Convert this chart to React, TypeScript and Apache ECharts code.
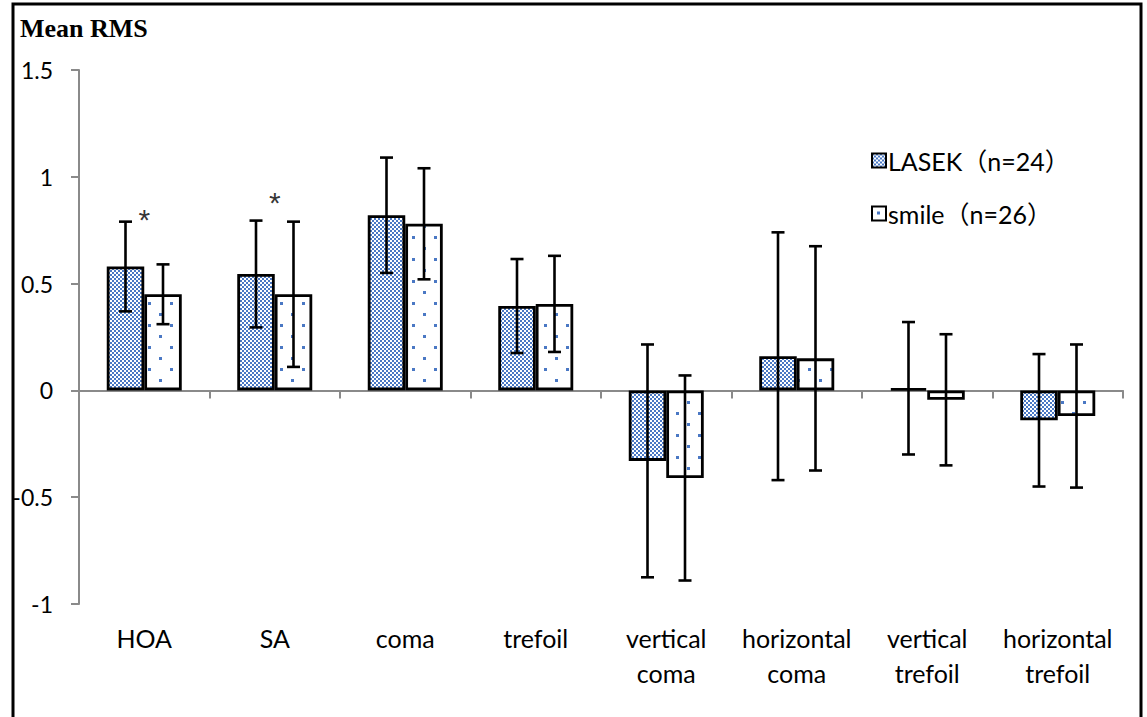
import React, { useEffect, useRef } from "react";
import * as echarts from "echarts";

const categories = [
  "HOA",
  "SA",
  "coma",
  "trefoil",
  "vertical\ncoma",
  "horizontal\ncoma",
  "vertical\ntrefoil",
  "horizontal\ntrefoil",
];
const lasekMean = [0.58, 0.545, 0.82, 0.395, -0.33, 0.16, 0.01, -0.14];
const lasekSD = [0.21, 0.25, 0.27, 0.22, 0.545, 0.58, 0.31, 0.31];
const smileMean = [0.45, 0.45, 0.78, 0.405, -0.41, 0.15, -0.044, -0.12];
const smileSD = [0.14, 0.34, 0.26, 0.225, 0.48, 0.525, 0.307, 0.335];
const asterisks: [number, number][] = [
  [0, 0.8],
  [1, 0.88],
];
const seriesNames = ["LASEK（n=24）", "smile（n=26）"];
const yTicks = [-1, -0.5, 0, 0.5, 1, 1.5];

const BLUE = "#4a78c4";
const BAR_W = 37.5;
const FONT = "Lato, 'Noto Sans CJK SC', sans-serif";

function makeChecker(): HTMLCanvasElement {
  const c = document.createElement("canvas");
  c.width = 4;
  c.height = 4;
  const g = c.getContext("2d")!;
  g.fillStyle = "#ffffff";
  g.fillRect(0, 0, 4, 4);
  g.fillStyle = BLUE;
  g.fillRect(0, 0, 2, 2);
  g.fillRect(2, 2, 2, 2);
  return c;
}
function makeDots(): HTMLCanvasElement {
  const c = document.createElement("canvas");
  c.width = 22;
  c.height = 22;
  const g = c.getContext("2d")!;
  g.fillStyle = "#ffffff";
  g.fillRect(0, 0, 22, 22);
  g.fillStyle = BLUE;
  g.fillRect(5, 5, 3, 3);
  g.fillRect(16, 16, 3, 3);
  return c;
}

function errorSeries(mean: number[], sd: number[], side: number) {
  return {
    type: "custom",
    xAxisIndex: 0,
    z: 10,
    silent: true,
    data: mean.map((m, i) => [i, m - sd[i], m + sd[i]]),
    renderItem: (_p: any, api: any) => {
      const i = api.value(0);
      const lo = api.coord([i, api.value(1)]);
      const hi = api.coord([i, api.value(2)]);
      const x = lo[0] + (side * BAR_W) / 2;
      const cap = 6.5;
      const st = { stroke: "#000", lineWidth: 2.6 };
      return {
        type: "group",
        children: [
          { type: "line", shape: { x1: x, y1: hi[1], x2: x, y2: lo[1] }, style: st },
          { type: "line", shape: { x1: x - cap, y1: hi[1], x2: x + cap, y2: hi[1] }, style: st },
          { type: "line", shape: { x1: x - cap, y1: lo[1], x2: x + cap, y2: lo[1] }, style: st },
        ],
      };
    },
  };
}

export default function App() {
  const ref = useRef<HTMLDivElement>(null);
  useEffect(() => {
    if (!ref.current) return;
    const chart = echarts.init(ref.current, null, { renderer: "svg" });
    const checker = { image: makeChecker(), repeat: "repeat" };
    const dots = { image: makeDots(), repeat: "repeat" };
    const axisGray = "#8a8a8a";
    chart.setOption({
      animation: false,
      backgroundColor: "#ffffff",
      title: {
        text: "Mean RMS",
        left: 15,
        top: 10,
        textStyle: {
          fontFamily: "'Liberation Serif', serif",
          fontWeight: "bold",
          fontSize: 26,
          color: "#000",
        },
      },
      legend: {
        orient: "vertical",
        left: 866,
        top: 143,
        itemGap: 28,
        itemWidth: 14,
        itemHeight: 14,
        icon: "rect",
        textStyle: { fontFamily: FONT, fontSize: 25, color: "#000", padding: [0, 0, 0, -3] },
        data: seriesNames,
      },
      graphic: [
        {
          type: "rect",
          shape: { x: 13, y: 4, width: 1128, height: 730 },
          style: { fill: "none", stroke: "#000", lineWidth: 3 },
          silent: true,
          z: 100,
        },
      ],
      grid: { left: 79, right: 24, top: 70, bottom: 113, containLabel: false },
      xAxis: [
        {
          type: "category",
          data: categories,
          axisLine: { onZero: true, lineStyle: { color: axisGray, width: 2 } },
          axisTick: { show: true, length: 8, lineStyle: { color: axisGray, width: 2 } },
          axisLabel: { show: false },
          splitLine: { show: false },
        },
        {
          type: "category",
          data: categories,
          position: "bottom",
          axisLine: { show: false, onZero: false },
          axisTick: { show: false },
          axisLabel: {
            margin: 16,
            fontFamily: FONT,
            fontSize: 25,
            lineHeight: 35,
            color: "#000",
            interval: 0,
          },
        },
      ],
      yAxis: {
        type: "value",
        min: -1,
        max: 1.5,
        interval: 0.5,
        axisLine: { show: true, lineStyle: { color: axisGray, width: 2 } },
        axisTick: { show: true, length: 8, lineStyle: { color: axisGray, width: 2 } },
        splitLine: { show: false },
        axisLabel: {
          margin: 26,
          fontFamily: FONT,
          fontSize: 23,
          color: "#000",
          formatter: (v: number) => (yTicks.includes(v) ? String(v) : ""),
        },
      },
      series: [
        {
          name: seriesNames[0],
          type: "bar",
          xAxisIndex: 0,
          barWidth: BAR_W,
          barGap: "0%",
          data: lasekMean,
          itemStyle: { color: checker, borderColor: "#000", borderWidth: 2.8 },
        },
        {
          name: seriesNames[1],
          type: "bar",
          xAxisIndex: 0,
          barWidth: BAR_W,
          barGap: "0%",
          data: smileMean,
          itemStyle: { color: dots, borderColor: "#000", borderWidth: 2.8 },
        },
        errorSeries(lasekMean, lasekSD, -1),
        errorSeries(smileMean, smileSD, 1),
        {
          type: "scatter",
          xAxisIndex: 0,
          symbolSize: 0,
          silent: true,
          data: asterisks,
          label: {
            show: true,
            position: "inside",
            formatter: "*",
            fontFamily: "'Liberation Sans', sans-serif",
            fontSize: 30,
            color: "#000",
          },
          z: 11,
        },
      ],
    });
    return () => chart.dispose();
  }, []);
  return (
    <div
      ref={ref}
      style={{ position: "fixed", left: 0, top: 0, width: 1147, height: 717, background: "#fff" }}
    />
  );
}
